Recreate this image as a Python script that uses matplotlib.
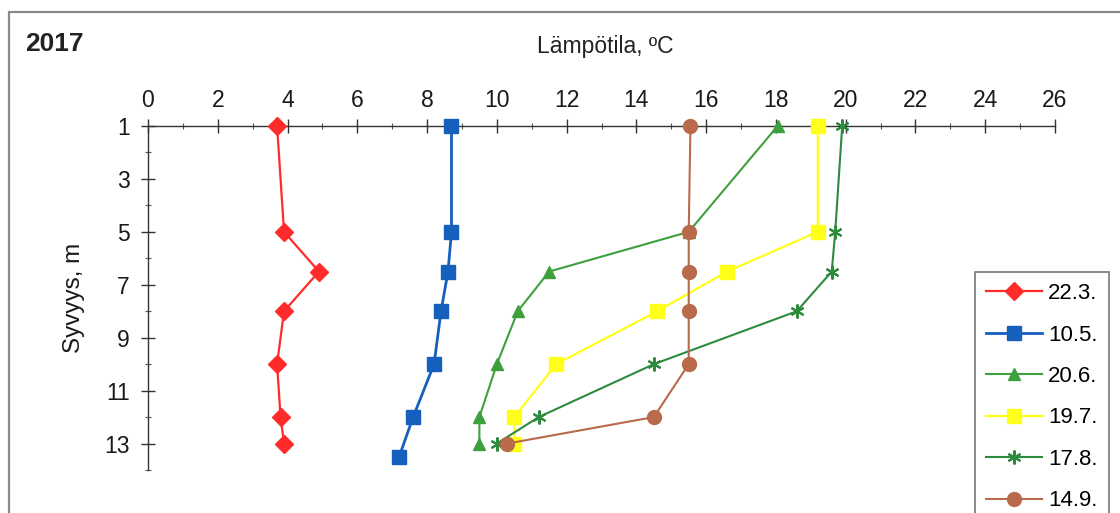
import matplotlib
matplotlib.use("Agg")
import matplotlib.pyplot as plt
from matplotlib.patches import Rectangle
from matplotlib.ticker import MultipleLocator

plt.rcParams['font.family'] = ['Liberation Sans', 'DejaVu Sans']

# Data: depth (m) and temperature (°C) for each sampling date
labels = ["22.3.", "10.5.", "20.6.", "19.7.", "17.8.", "14.9."]
depth_a = [1, 5, 6.5, 8, 10, 12, 13]
depth_b = [1, 5, 6.5, 8, 10, 12, 13.5]
t_223 = [3.7, 3.9, 4.9, 3.9, 3.7, 3.8, 3.9]
t_105 = [8.7, 8.7, 8.6, 8.4, 8.2, 7.6, 7.2]
t_206 = [18.05, 15.5, 11.5, 10.6, 10.0, 9.5, 9.5]
t_197 = [19.2, 19.2, 16.6, 14.6, 11.7, 10.5, 10.5]
t_178 = [19.9, 19.7, 19.6, 18.6, 14.5, 11.2, 10.0]
t_149 = [15.55, 15.5, 15.5, 15.5, 15.5, 14.5, 10.3]

xticks = list(range(0, 27, 2))
yticks = [1, 3, 5, 7, 9, 11, 13]

W, H = 1120, 513
fig = plt.figure(figsize=(W / 100, H / 100), dpi=100)
ax = fig.add_axes([148 / W, 1 - 470 / H, (1055 - 148) / W, (470 - 126) / H])

series = [
    (t_223, depth_a, "#FF2A2A", "D", 9, 1.6),
    (t_105, depth_b, "#1560BD", "s", 10, 2.0),
    (t_206, depth_a, "#3DA03D", "^", 9, 1.5),
    (t_197, depth_a, "#FFFF1A", "s", 10, 1.6),
    (t_178, depth_a, "#2E8B3E", (6, 2, 0), 10, 1.5),
    (t_149, depth_a, "#B86A4A", "o", 10, 1.5),
]
for (t, d, c, m, ms, lw), lab in zip(series, labels):
    ax.plot(t, d, color=c, marker=m, markersize=ms, linewidth=lw,
            markeredgecolor=c, markeredgewidth=1.5 if m == (6, 2, 0) else 1.0,
            label=lab, clip_on=False, zorder=3)

ax.set_xlim(0, 26)
ax.set_ylim(14, 1)
ax.set_xticks(xticks)
ax.set_yticks(yticks)
ax.xaxis.set_minor_locator(MultipleLocator(1))
ax.yaxis.set_minor_locator(MultipleLocator(1))
ax.xaxis.tick_top()
for s in ["right", "bottom"]:
    ax.spines[s].set_visible(False)
for s in ["left", "top"]:
    ax.spines[s].set_color("#333333")
    ax.spines[s].set_linewidth(1.0)
ax.tick_params(axis="both", which="major", direction="inout", length=10,
               width=1.0, color="#333333", labelsize=16.5, pad=8,
               labelcolor="#1a1a1a")
ax.tick_params(axis="x", which="major", pad=5)
ax.tick_params(axis="both", which="minor", direction="inout", length=5,
               width=0.8, color="#555555")
ax.tick_params(axis="x", which="both", top=True, bottom=False)
ax.set_ylabel("Syvyys, m", fontsize=17.5, labelpad=14, color="#1a1a1a")

fig.text(25 / W, 1 - 44 / H, "2017", fontsize=19, fontweight="bold",
         va="center", ha="left", color="#222222")
fig.text(605 / W, 1 - 46 / H, "Lämpötila, ºC", fontsize=16.5,
         va="center", ha="center", color="#222222")

# outer chart frame (left and top visible)
fig.add_artist(Rectangle((9 / W, -0.1), 1.2, 1.1 - 12 / H, transform=fig.transFigure,
                         fill=False, edgecolor="#8a8a8a", linewidth=1.6))

leg = ax.legend(loc="upper left", bbox_to_anchor=(975 / W, 1 - 272 / H),
                bbox_transform=fig.transFigure, frameon=True, fancybox=False,
                fontsize=16, handlelength=2.5, handletextpad=0.3,
                labelspacing=0.92, borderpad=0.5, borderaxespad=0)
leg.get_frame().set_edgecolor("#555555")
leg.get_frame().set_linewidth(1.2)

fig.savefig("out.png", dpi=100)
